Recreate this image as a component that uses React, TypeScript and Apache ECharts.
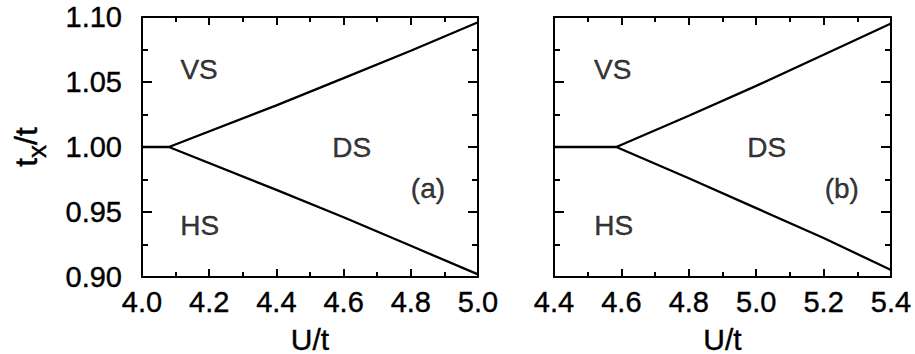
import React, { useEffect, useRef } from "react";
import * as echarts from "echarts";

// Panel (a)
const upperA: number[][] = [[4.0, 1.0], [4.08, 1.0], [4.4, 1.032], [4.6, 1.053], [4.8, 1.074], [5.0, 1.096]];
const lowerA: number[][] = [[4.08, 1.0], [4.4, 0.967], [4.6, 0.946], [4.8, 0.924], [5.0, 0.902]];
// Panel (b)
const upperB: number[][] = [[4.4, 1.0], [4.585, 1.0], [4.8, 1.024], [5.0, 1.047], [5.2, 1.071], [5.4, 1.095]];
const lowerB: number[][] = [[4.585, 1.0], [4.8, 0.976], [5.0, 0.953], [5.2, 0.93], [5.4, 0.9054]];

const namesA = ["VS", "HS", "DS", "(a)"];
const namesB = ["VS", "HS", "DS", "(b)"];
const posA: number[][] = [[4.17, 1.06], [4.172, 0.94], [4.624, 1.0], [4.851, 0.9677]];
const posB: number[][] = [[4.574, 1.06], [4.577, 0.94], [5.031, 1.0], [5.254, 0.9677]];

const xRangeA = [4.0, 5.0];
const xRangeB = [4.4, 5.4];
const yRange = [0.9, 1.1];

const FONT = "'Liberation Sans', Arial, Helvetica, sans-serif";
const BLACK = "#000";
const TB = { textBorderColor: BLACK, textBorderWidth: 0.4 };

function xAxisDef(grid: number, range: number[], position: "top" | "bottom", labels: boolean): any {
  return {
    type: "value",
    gridIndex: grid,
    position,
    min: range[0],
    max: range[1],
    interval: 0.2,
    axisLine: { show: true, onZero: false, lineStyle: { color: BLACK, width: 2 } },
    axisTick: { show: true, inside: true, length: 8, lineStyle: { color: BLACK, width: 2 } },
    minorTick: { show: true, splitNumber: 2, length: 5, lineStyle: { color: BLACK, width: 2 } },
    splitLine: { show: false },
    minorSplitLine: { show: false },
    axisLabel: {
      show: labels,
      fontSize: 29,
      fontFamily: FONT,
      color: BLACK,
      ...TB,
      margin: 10,
      formatter: (v: number) => v.toFixed(1),
    },
    name: labels ? "U/t" : "",
    nameLocation: "middle",
    nameGap: 47,
    nameTextStyle: { fontSize: 30, fontFamily: FONT, color: BLACK, ...TB },
  };
}

function yAxisDef(grid: number, position: "left" | "right", labels: boolean): any {
  return {
    type: "value",
    gridIndex: grid,
    position,
    min: yRange[0],
    max: yRange[1],
    interval: 0.05,
    axisLine: { show: true, onZero: false, lineStyle: { color: BLACK, width: 2 } },
    axisTick: { show: true, inside: true, length: 10, lineStyle: { color: BLACK, width: 2 } },
    minorTick: { show: true, splitNumber: 2, length: 6, lineStyle: { color: BLACK, width: 2 } },
    splitLine: { show: false },
    minorSplitLine: { show: false },
    axisLabel: {
      show: labels,
      fontSize: 29,
      fontFamily: FONT,
      color: BLACK,
      ...TB,
      margin: 20,
      formatter: (v: number) => v.toFixed(2),
    },
    name: labels ? "{t|t}{s|x}{t|/t}" : "",
    nameLocation: "middle",
    nameRotate: 90,
    nameGap: 92,
    nameTextStyle: {
      rich: {
        t: { fontSize: 32, fontFamily: FONT, color: BLACK, ...TB },
        s: { fontSize: 26, fontFamily: FONT, color: BLACK, ...TB, padding: [22, 0, 0, 0] },
      },
    },
  };
}

function lineSeries(data: number[][], idx: number): any {
  return {
    type: "line",
    xAxisIndex: idx,
    yAxisIndex: idx,
    data,
    symbol: "none",
    silent: true,
    lineStyle: { color: BLACK, width: 2.3 },
  };
}

function textSeries(pos: number[][], names: string[], idx: number): any {
  return {
    type: "scatter",
    xAxisIndex: idx,
    yAxisIndex: idx,
    symbolSize: 0,
    silent: true,
    data: pos.map((d, i) => ({ value: d, name: names[i] })),
    label: {
      show: true,
      position: "inside",
      formatter: (p: any) => p.name,
      fontSize: 28,
      fontFamily: FONT,
      color: BLACK,
      ...TB,
    },
  };
}

export default function App() {
  const ref = useRef<HTMLDivElement>(null);
  useEffect(() => {
    if (!ref.current) return;
    const chart = echarts.init(ref.current, undefined, { renderer: "svg" });
    chart.setOption({
      animation: false,
      backgroundColor: "#fff",
      grid: [
        { left: 142, top: 17, width: 336, height: 260, show: false, containLabel: false, outerBoundsMode: "none" },
        { left: 554, top: 17, width: 337, height: 260, show: false, containLabel: false, outerBoundsMode: "none" },
      ],
      xAxis: [
        xAxisDef(0, xRangeA, "bottom", true),
        xAxisDef(1, xRangeB, "bottom", true),
        xAxisDef(0, xRangeA, "top", false),
        xAxisDef(1, xRangeB, "top", false),
      ],
      yAxis: [
        yAxisDef(0, "left", true),
        yAxisDef(1, "left", false),
        yAxisDef(0, "right", false),
        yAxisDef(1, "right", false),
      ],
      series: [
        lineSeries(upperA, 0),
        lineSeries(lowerA, 0),
        lineSeries(upperB, 1),
        lineSeries(lowerB, 1),
        textSeries(posA, namesA, 0),
        textSeries(posB, namesB, 1),
      ],
    });
    return () => chart.dispose();
  }, []);
  return (
    <div
      ref={ref}
      style={{ position: "absolute", left: 0, top: 0, width: 915, height: 354, background: "#fff" }}
    />
  );
}
